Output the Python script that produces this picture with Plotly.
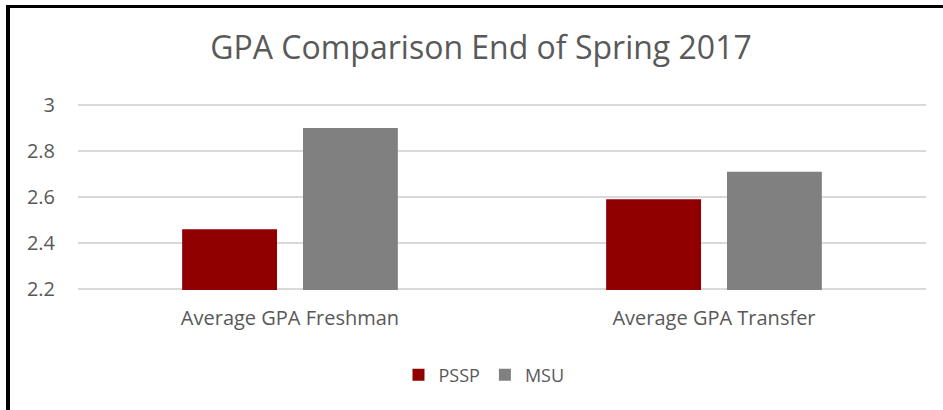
import plotly.graph_objects as go

categories = ["Average GPA Freshman", "Average GPA Transfer"]
pssp_values = [2.46, 2.59]
msu_values = [2.90, 2.71]
series_names = ["PSSP", "MSU"]
tick_values = [2.2, 2.4, 2.6, 2.8, 3.0]
tick_labels = ["2.2", "2.4", "2.6", "2.8", "3"]

W, H = 943, 410
L, R, T, B = 78, 17, 104, 120
pw, ph = W - L - R, H - T - B

def px(x):
    return (x - L) / pw

def py(y):
    return (H - B - y) / ph

fig = go.Figure()
fig.add_trace(go.Bar(x=categories, y=pssp_values, name=series_names[0],
                     marker=dict(color="#900000", line=dict(width=0))))
fig.add_trace(go.Bar(x=categories, y=msu_values, name=series_names[1],
                     marker=dict(color="#808080", line=dict(width=0))))

font_fam = "Open Sans, Liberation Sans, sans-serif"
fig.update_layout(
    width=W, height=H,
    margin=dict(l=L, r=R, t=T, b=B, pad=0),
    paper_bgcolor="white", plot_bgcolor="white",
    barmode="group", bargap=0.43, bargroupgap=0.215,
    title=dict(text="GPA Comparison End of Spring 2017", x=px(481), xanchor="center",
               y=1 - 48 / H, yanchor="middle", xref="paper",
               font=dict(family=font_fam, size=32, color="#595959")),
    font=dict(family=font_fam, color="#595959"),
    showlegend=True,
    legend=dict(orientation="h", x=px(484), xanchor="center", y=py(375), yanchor="middle",
                font=dict(size=18, color="#595959"), itemwidth=30),
    xaxis=dict(showgrid=False, showline=False, ticks="", ticklabelstandoff=14,
               tickfont=dict(size=20, color="#595959")),
    yaxis=dict(range=[2.1952, 3.0048], tickvals=tick_values, ticktext=tick_labels,
               showgrid=True, gridcolor="#d9d9d9", gridwidth=1.5, zeroline=False,
               showline=False, ticks="", ticklabelstandoff=22,
               tickfont=dict(size=20, color="#595959")),
    shapes=[
        dict(type="line", xref="paper", yref="paper", x0=px(6), x1=px(943), y0=py(6.5), y1=py(6.5),
             line=dict(color="black", width=3)),
        dict(type="line", xref="paper", yref="paper", x0=px(8), x1=px(8), y0=py(5), y1=py(410),
             line=dict(color="black", width=4)),
    ],
)
fig.write_html("out.html", config={"displayModeBar": False},
               post_script="document.body.style.margin='0';document.body.style.overflow='hidden';")
